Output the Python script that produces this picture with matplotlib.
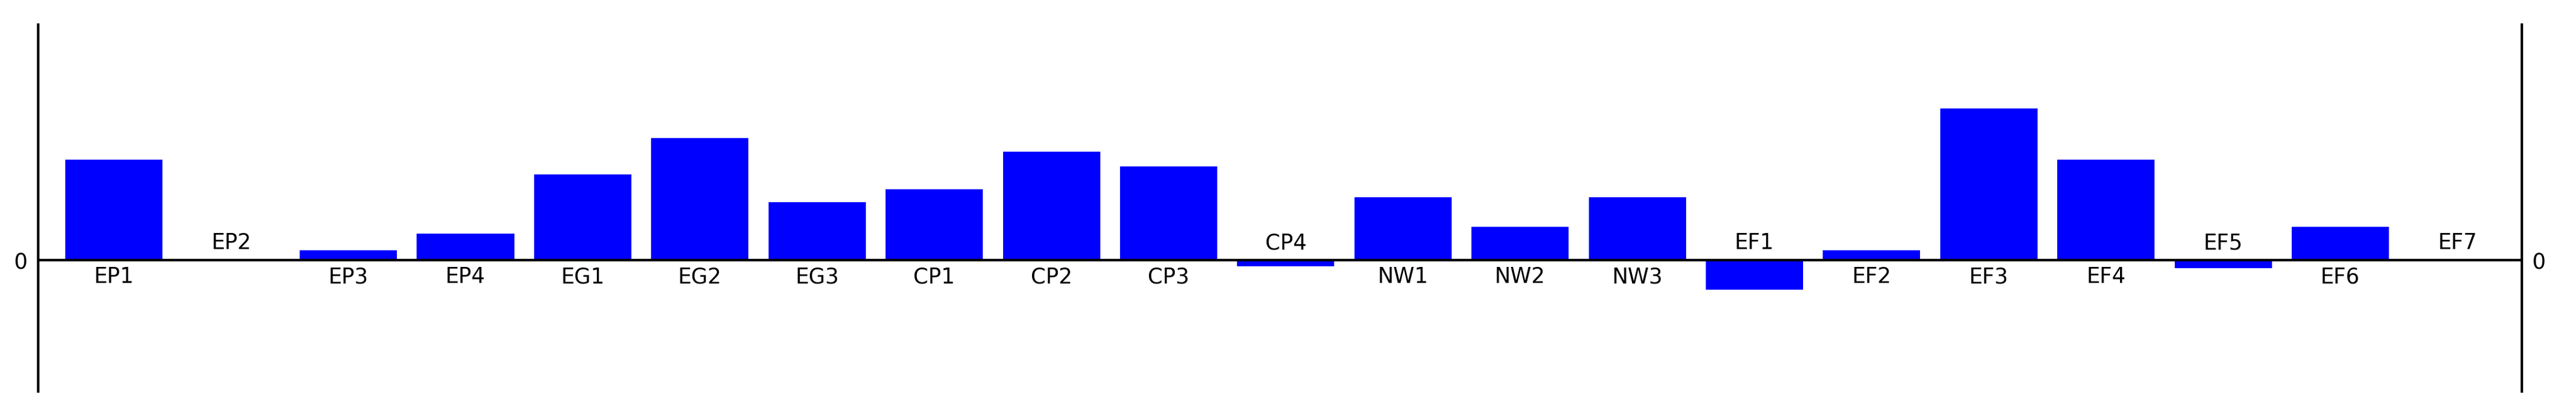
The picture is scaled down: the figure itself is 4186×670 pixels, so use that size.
import matplotlib.pyplot as plt

labels = ['EP1', 'EP2', 'EP3', 'EP4', 'EG1', 'EG2', 'EG3', 'CP1', 'CP2', 'CP3', 'CP4',
          'NW1', 'NW2', 'NW3', 'EF1', 'EF2', 'EF3', 'EF4', 'EF5', 'EF6', 'EF7']
values = [61, 0, 6, 16, 52, 74, 35, 43, 66, 57, -4,
          38, 20, 38, -18, 6, 92, 61, -5, 20, 0]

fig = plt.figure(figsize=(41.86, 6.70), dpi=100)
ax = fig.add_axes([0.0147, 0.052, 0.9643, 0.888])
x = range(len(values))
ax.bar(x, values, width=0.83, color='#0000ff', zorder=2)
ax.axhline(0, color='black', lw=3, zorder=3)
ax.set_xlim(-0.65, len(values) - 0.45)
ax.set_ylim(-80, 143)

for i, (lab, v) in enumerate(zip(labels, values)):
    if v > 0:
        ax.text(i, -4, lab, ha='center', va='top', fontsize=25)
    else:
        ax.text(i, 4, lab, ha='center', va='bottom', fontsize=25)

for s in ['top', 'bottom']:
    ax.spines[s].set_visible(False)
for s in ['left', 'right']:
    ax.spines[s].set_linewidth(3)
ax.set_xticks([])
ax.set_yticks([0])
ax.tick_params(axis='y', length=0, labelsize=25, labelright=True, pad=12)
fig.savefig('out.png')
